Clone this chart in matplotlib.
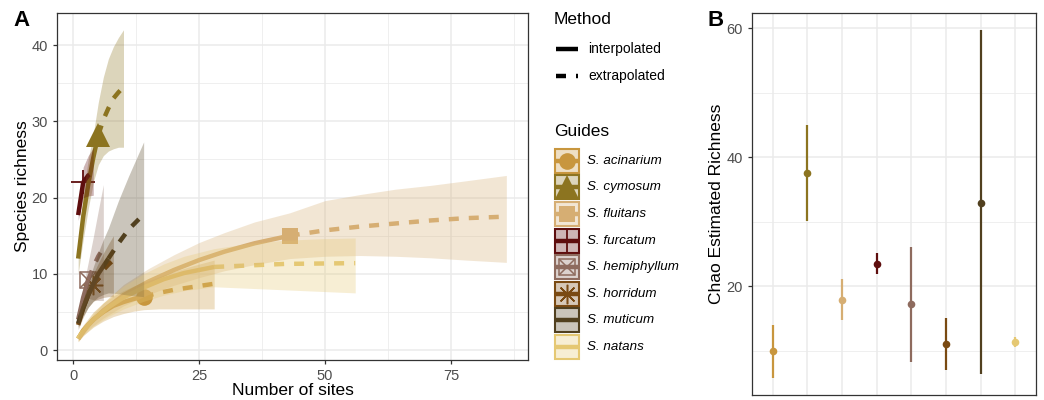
import numpy as np
import matplotlib
matplotlib.use('Agg')
from matplotlib import pyplot as plt
from matplotlib.patches import Rectangle

plt.rcParams['font.family'] = ['Liberation Sans', 'DejaVu Sans']

species = ['S. acinarium', 'S. cymosum', 'S. fluitans', 'S. furcatum',
           'S. hemiphyllum', 'S. horridum', 'S. muticum', 'S. natans']
colors = ['#C8963E', '#8C7420', '#D6AE73', '#5E0E0E',
          '#8E6B5E', '#7A4A12', '#51401F', '#E5C873']

# observed number of sites per guide (end of interpolation)
obs_sites = [14, 5, 43, 2, 3, 4, 7, 28]

# rarefaction / extrapolation curves
acinarium_x = [1, 2, 4, 6, 8, 10, 12, 14, 17, 20, 24, 28]
acinarium_y = [1.5, 2.6, 4.0, 5.0, 5.8, 6.3, 6.7, 7.0, 7.5, 7.9, 8.3, 8.7]
acinarium_lo = [1.1, 1.9, 3.0, 3.8, 4.4, 4.8, 5.1, 5.3, 5.4, 5.4, 5.4, 5.4]
acinarium_hi = [1.9, 3.3, 5.0, 6.2, 7.1, 7.8, 8.4, 8.9, 9.6, 10.3, 11.1, 11.8]

cymosum_x = [1, 2, 3, 4, 5, 6, 7, 8, 9, 10]
cymosum_y = [12.0, 17.5, 21.7, 25.2, 28.2, 30.2, 31.7, 33.0, 33.8, 34.5]
cymosum_lo = [10.0, 14.5, 18.5, 22.0, 24.3, 25.5, 26.1, 26.4, 26.6, 26.6]
cymosum_hi = [14.0, 20.5, 25.0, 28.3, 32.5, 35.8, 38.2, 39.8, 41.0, 42.0]

fluitans_x = [1, 3, 6, 10, 15, 20, 25, 30, 36, 43, 50, 57, 64, 71, 78, 86]
fluitans_y = [1.5, 3.3, 5.2, 7.2, 9.0, 10.5, 11.8, 12.9, 14.0, 15.0,
              15.7, 16.2, 16.6, 17.0, 17.3, 17.5]
fluitans_lo = [1.2, 2.7, 4.2, 5.8, 7.3, 8.5, 9.5, 10.4, 11.2, 12.0,
               12.3, 12.4, 12.3, 12.1, 11.8, 11.5]
fluitans_hi = [1.8, 3.9, 6.2, 8.6, 10.7, 12.5, 14.1, 15.4, 16.8, 18.0,
               19.6, 20.4, 21.1, 21.6, 22.2, 22.9]

furcatum_x = [1, 2, 3, 4]
furcatum_y = [17.7, 22.0, 22.9, 23.4]
furcatum_lo = [17.0, 20.0, 20.2, 20.3]
furcatum_hi = [18.5, 24.0, 25.5, 26.5]

hemiphyllum_x = [1, 2, 3, 4, 5, 6]
hemiphyllum_y = [4.0, 6.9, 9.2, 10.9, 12.3, 13.4]
hemiphyllum_lo = [3.3, 5.5, 6.8, 6.6, 6.5, 6.5]
hemiphyllum_hi = [4.8, 8.3, 11.5, 14.8, 18.3, 21.7]

horridum_x = [1, 2, 3, 4, 5, 6, 7, 8]
horridum_y = [3.3, 5.5, 7.2, 8.5, 9.6, 10.5, 11.2, 11.8]
horridum_lo = [2.7, 4.3, 5.6, 6.4, 6.7, 6.9, 7.0, 7.0]
horridum_hi = [4.0, 6.6, 8.4, 10.0, 11.4, 12.7, 13.9, 15.0]

muticum_x = [1, 2, 3, 4, 5, 6, 7, 9, 11, 14]
muticum_y = [3.5, 5.5, 7.2, 8.7, 10.0, 11.0, 12.0, 14.0, 15.8, 17.8]
muticum_lo = [3.0, 4.5, 5.6, 6.4, 7.0, 7.3, 7.5, 7.4, 7.2, 7.0]
muticum_hi = [4.1, 6.6, 8.8, 10.9, 12.8, 14.5, 16.0, 19.6, 22.8, 27.3]

natans_x = [1, 2, 4, 7, 10, 14, 18, 22, 28, 35, 42, 49, 56]
natans_y = [1.5, 2.5, 4.0, 5.6, 6.9, 8.2, 9.3, 10.1, 10.9, 11.1, 11.3, 11.35, 11.4]
natans_lo = [1.1, 1.9, 3.1, 4.4, 5.4, 6.4, 7.2, 7.8, 8.3, 8.1, 7.9, 7.7, 7.5]
natans_hi = [1.9, 3.1, 4.9, 6.8, 8.4, 10.0, 11.3, 12.3, 13.3, 14.0, 14.4, 14.6, 14.7]

# Chao estimated richness (panel B)
chao_est = [9.9, 37.6, 17.9, 23.5, 17.2, 11.0, 32.9, 11.4]
chao_lo = [5.7, 30.1, 14.7, 21.9, 8.3, 7.0, 6.3, 10.6]
chao_hi = [14.0, 45.0, 21.1, 25.2, 26.0, 15.0, 59.7, 12.1]

curves = [
    (acinarium_x, acinarium_y, acinarium_lo, acinarium_hi),
    (cymosum_x, cymosum_y, cymosum_lo, cymosum_hi),
    (fluitans_x, fluitans_y, fluitans_lo, fluitans_hi),
    (furcatum_x, furcatum_y, furcatum_lo, furcatum_hi),
    (hemiphyllum_x, hemiphyllum_y, hemiphyllum_lo, hemiphyllum_hi),
    (horridum_x, horridum_y, horridum_lo, horridum_hi),
    (muticum_x, muticum_y, muticum_lo, muticum_hi),
    (natans_x, natans_y, natans_lo, natans_hi),
]

LW = 3.2
DASH = (2.25, 2.25)
BAND_ALPHA = 0.3


def draw_marker(ax, x, y, i, zorder=3, **kw):
    c = colors[i]
    if i == 0:
        ax.plot(x, y, 'o', ms=12, color=c, mew=0, zorder=zorder, **kw)
    elif i == 1:
        ax.plot(x, y, '^', ms=17, color=c, mew=0, zorder=zorder, **kw)
    elif i == 2:
        ax.plot(x, y, 's', ms=12, color=c, mew=0, zorder=zorder, **kw)
    elif i == 3:
        ax.plot(x, y, '+', ms=17, color=c, mew=1.3, zorder=zorder, **kw)
    elif i == 4:
        ax.plot(x, y, 's', ms=12, mfc='none', mec=c, mew=1.1, zorder=zorder, **kw)
        ax.plot(x, y, 'x', ms=12, color=c, mew=1.1, zorder=zorder, **kw)
    elif i == 5:
        ax.plot(x, y, marker=(8, 2, 0), ms=14, color=c, mew=1.1, ls='none',
                zorder=zorder, **kw)
    # muticum and natans have no point shape


def style_axes(ax):
    ax.set_facecolor('white')
    for s in ax.spines.values():
        s.set_color('#333333')
        s.set_linewidth(0.9)
    ax.grid(True, which='major', color='#EBEBEB', lw=1.1, zorder=0)
    ax.grid(True, which='minor', color='#EBEBEB', lw=0.55, zorder=0)
    ax.set_axisbelow(True)
    ax.tick_params(which='major', length=3, width=0.9, color='#333333',
                   labelcolor='#4D4D4D', labelsize=10.5)
    ax.tick_params(which='minor', length=0)


fig = plt.figure(figsize=(10.44, 4), dpi=100)
axA = fig.add_axes([57 / 1044, 40 / 400, 471 / 1044, 347 / 400])
axB = fig.add_axes([752 / 1044, 5 / 400, 284 / 1044, 382 / 400])

# ---- panel A
style_axes(axA)
for i, (x, y, lo, hi) in enumerate(curves):
    x = np.asarray(x, float)
    y = np.asarray(y, float)
    t = obs_sites[i]
    inter = x <= t
    extra = x >= t
    c = colors[i]
    axA.plot(x[inter], y[inter], color=c, lw=LW, solid_capstyle='butt', zorder=3)
    axA.plot(x[extra], y[extra], color=c, lw=LW, dashes=DASH,
             dash_capstyle='butt', zorder=3)
    draw_marker(axA, t, np.interp(t, x, y), i, zorder=2)
    axA.fill_between(x, lo, hi, color=c, alpha=BAND_ALPHA, lw=0, zorder=4)

axA.set_xlim(-3.2, 90.3)
axA.set_ylim(-1.3, 44.2)
axA.set_xticks([0, 25, 50, 75])
axA.set_xticks([12.5, 37.5, 62.5, 87.5], minor=True)
axA.set_yticks([0, 10, 20, 30, 40])
axA.set_yticks([5, 15, 25, 35], minor=True)
axA.set_xlabel('Number of sites', fontsize=12.5, labelpad=0)
axA.set_ylabel('Species richness', fontsize=12.5, labelpad=1.5)

# ---- panel B
style_axes(axB)
pos = np.arange(1, len(species) + 1)
for i in range(len(species)):
    axB.plot([pos[i], pos[i]], [chao_lo[i], chao_hi[i]], color=colors[i],
             lw=1.6, solid_capstyle='butt', zorder=3)
    axB.plot(pos[i], chao_est[i], 'o', ms=5.5, color=colors[i], mew=0, zorder=4)
axB.set_xlim(0.4, 8.6)
axB.set_ylim(3.1, 62.4)
axB.set_xticks(pos)
axB.set_xticklabels([])
axB.tick_params(axis='x', length=0)
axB.set_yticks([20, 40, 60])
axB.set_yticks([10, 30, 50], minor=True)
axB.set_ylabel('Chao Estimated Richness', fontsize=12.5, labelpad=2)

# ---- panel tags
fig.text(22 / 1044, 1 - 20 / 400, 'A', fontsize=16, fontweight='bold',
         ha='center', va='center')
fig.text(716 / 1044, 1 - 20 / 400, 'B', fontsize=16, fontweight='bold',
         ha='center', va='center')

# ---- legends (drawn in pixel coordinates)
lg = fig.add_axes([0, 0, 1, 1])
lg.set_xlim(0, 1044)
lg.set_ylim(400, 0)
lg.axis('off')

lg.text(554, 20, 'Method', fontsize=12.5, va='center')
lg.plot([556, 578], [49, 49], color='black', lw=LW, solid_capstyle='butt')
lg.text(588, 49, 'interpolated', fontsize=10, va='center')
lg.plot([556, 566], [76, 76], color='black', lw=LW, solid_capstyle='butt')
lg.plot([575.5, 577.5], [76, 76], color='black', lw=LW, solid_capstyle='butt')
lg.text(588, 76, 'extrapolated', fontsize=10, va='center')

lg.text(554, 132, 'Guides', fontsize=12.5, va='center')
for i, name in enumerate(species):
    cy = 160.8 + 26.6 * i
    c = colors[i]
    lg.add_patch(Rectangle((554.8, cy - 12), 24, 24, facecolor=c,
                           alpha=BAND_ALPHA, lw=0))
    lg.add_patch(Rectangle((554.8, cy - 12), 24, 24, facecolor='none',
                           edgecolor=c, lw=1.5))
    lg.plot([555.5, 578], [cy, cy], color=c, lw=LW, solid_capstyle='butt')
    draw_marker(lg, 566.8, cy, i)
    lg.text(587, cy, name, fontsize=9.6, style='italic', va='center')

fig.savefig('out.png', dpi=100)
